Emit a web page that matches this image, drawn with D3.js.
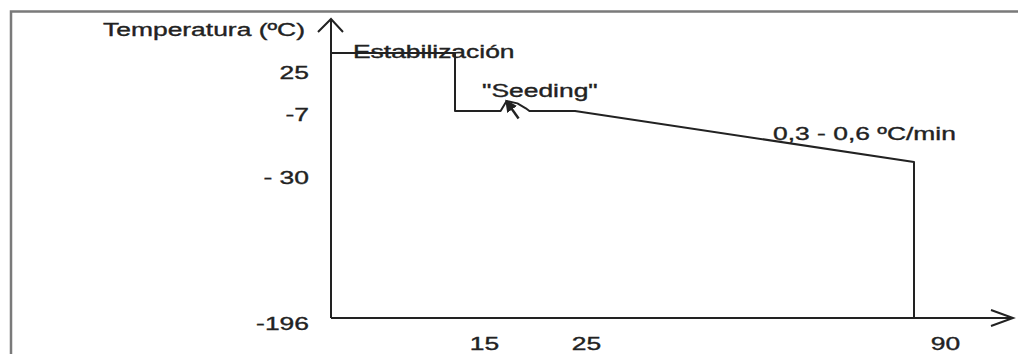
<!DOCTYPE html>
<html>
<head>
<meta charset="utf-8">
<script src="https://cdn.jsdelivr.net/npm/d3@7"></script>
<style>
  html, body { margin: 0; padding: 0; background: #fff; }
  svg { display: block; }
  text { font-family: "Liberation Sans", Arial, Helvetica, sans-serif; fill: #222; stroke: #222; stroke-width: 0.35px; }
</style>
</head>
<body>
<svg id="chart" width="1018" height="354"></svg>
<script>
// ---------------- DATA ----------------
const timeMin = [0, 15, 15, 18.8, 19.3, 20.2, 20.9, 21.2, 25, 90, 90];
const tempC   = [25, 25, -7, -7, -1.5, -2.8, -5.5, -7, -7, -30, -196];
const xTickValues = [15, 25, 90];
const xTickLabels = ["15", "25", "90"];
const yTickValues = [25, -7, -30, -196];
const yTickLabels = ["25", "-7", "- 30", "-196"];
const seedingArrowTime = [20.3, 19.3];
const seedingArrowTemp = [-10.4, -1.8];
const yTitle = "Temperatura (ºC)";
const labelStab = "Estabilización";
const labelSeed = "\"Seeding\"";
const labelRate = "0,3 - 0,6 ºC/min";

// ---------------- LAYOUT / STYLE ----------------
const SX = 1.51;          // horizontal stretch of the original scan
const FONT = 17.5;
const INK = "#222";
const originX = 331, originY = 318, axisTopY = 19, axisRightX = 1013;
const yLabelShift = { "25": 25, "-7": 9, "- 30": 21, "-196": 11 };   // baseline offset from tick
const xLabelShift = { "15": 29, "25": 11, "90": 31 };               // centre offset from tick

const svg = d3.select("#chart");

// frame of the scanned figure
svg.append("path")
  .attr("d", "M11,354 L11,11.5 L1018,11.5")
  .attr("fill", "none").attr("stroke", "#7a7a7a").attr("stroke-width", 2.5);

// scales (schematic, piecewise linear)
const x = d3.scaleLinear().domain([0, 15, 25, 90]).range([originX, 455, 575, 914]);
const y = d3.scaleLinear().domain([-196, -30, -7, 25]).range([originY, 162, 111, 53]);

// y axis via d3.axisLeft (labels only), line drawn separately
const yAxis = svg.append("g").attr("transform", `translate(${originX},0)`)
  .call(d3.axisLeft(y).tickValues(yTickValues).tickSize(0)
        .tickFormat((d, i) => yTickLabels[i]));
yAxis.select(".domain").remove();
yAxis.selectAll("text")
  .attr("x", null).attr("dy", null)
  .attr("text-anchor", "end")
  .attr("font-size", FONT).attr("font-family", null)
  .attr("fill", INK)
  .attr("transform", function(d, i) {
    return `translate(-22,${yLabelShift[yTickLabels[i]]}) scale(${SX},1)`;
  });

// x axis via d3.axisBottom (labels only)
const xAxis = svg.append("g").attr("transform", `translate(0,${originY})`)
  .call(d3.axisBottom(x).tickValues(xTickValues).tickSize(0)
        .tickFormat((d, i) => xTickLabels[i]));
xAxis.select(".domain").remove();
xAxis.selectAll("text")
  .attr("y", null).attr("dy", null)
  .attr("text-anchor", "middle")
  .attr("font-size", FONT).attr("font-family", null)
  .attr("fill", INK)
  .attr("transform", function(d, i) {
    return `translate(${xLabelShift[xTickLabels[i]]},32) scale(${SX},1)`;
  });

// axis lines with open arrowheads
const axes = svg.append("g").attr("fill", "none").attr("stroke", INK)
  .attr("stroke-width", 2).attr("stroke-linejoin", "miter");
axes.append("path").attr("d", `M${originX},${originY} L${originX},${axisTopY}`);
axes.append("path").attr("d", `M${originX - 13},${axisTopY + 13} L${originX},${axisTopY} L${originX + 12},${axisTopY + 13}`);
axes.append("path").attr("d", `M${originX},${originY} L${axisRightX},${originY}`);
axes.append("path").attr("d", `M${axisRightX - 22},${originY - 8} L${axisRightX},${originY} L${axisRightX - 22},${originY + 8}`);

// temperature profile
const pts = timeMin.map((t, i) => [t, tempC[i]]);
const line = d3.line().x(d => x(d[0])).y(d => y(d[1]));
svg.append("path").datum(pts)
  .attr("d", line)
  .attr("fill", "none").attr("stroke", INK).attr("stroke-width", 2)
  .attr("stroke-linejoin", "round");

// seeding arrow
const defs = svg.append("defs");
defs.append("marker").attr("id", "ah")
  .attr("viewBox", "0 0 10 10").attr("refX", 8).attr("refY", 5)
  .attr("markerWidth", 5).attr("markerHeight", 5).attr("orient", "auto")
  .attr("markerUnits", "strokeWidth")
  .append("path").attr("d", "M0,0 L10,5 L0,10 Z").attr("fill", INK);
const arrowPts = seedingArrowTime.map((t, i) => [t, seedingArrowTemp[i]]);
svg.append("path").datum(arrowPts)
  .attr("d", line)
  .attr("fill", "none").attr("stroke", INK).attr("stroke-width", 2.4)
  .attr("marker-end", "url(#ah)");

// texts
function stretchedText(str, px, py, anchor) {
  svg.append("text")
    .attr("transform", `translate(${px},${py}) scale(${SX},1)`)
    .attr("text-anchor", anchor || "start")
    .attr("font-size", FONT)
    .text(str);
}
stretchedText(yTitle, 305, 36, "end");
stretchedText(labelStab, 353, 58);
stretchedText(labelSeed, 482, 97);
stretchedText(labelRate, 773, 140);
</script>
</body>
</html>
